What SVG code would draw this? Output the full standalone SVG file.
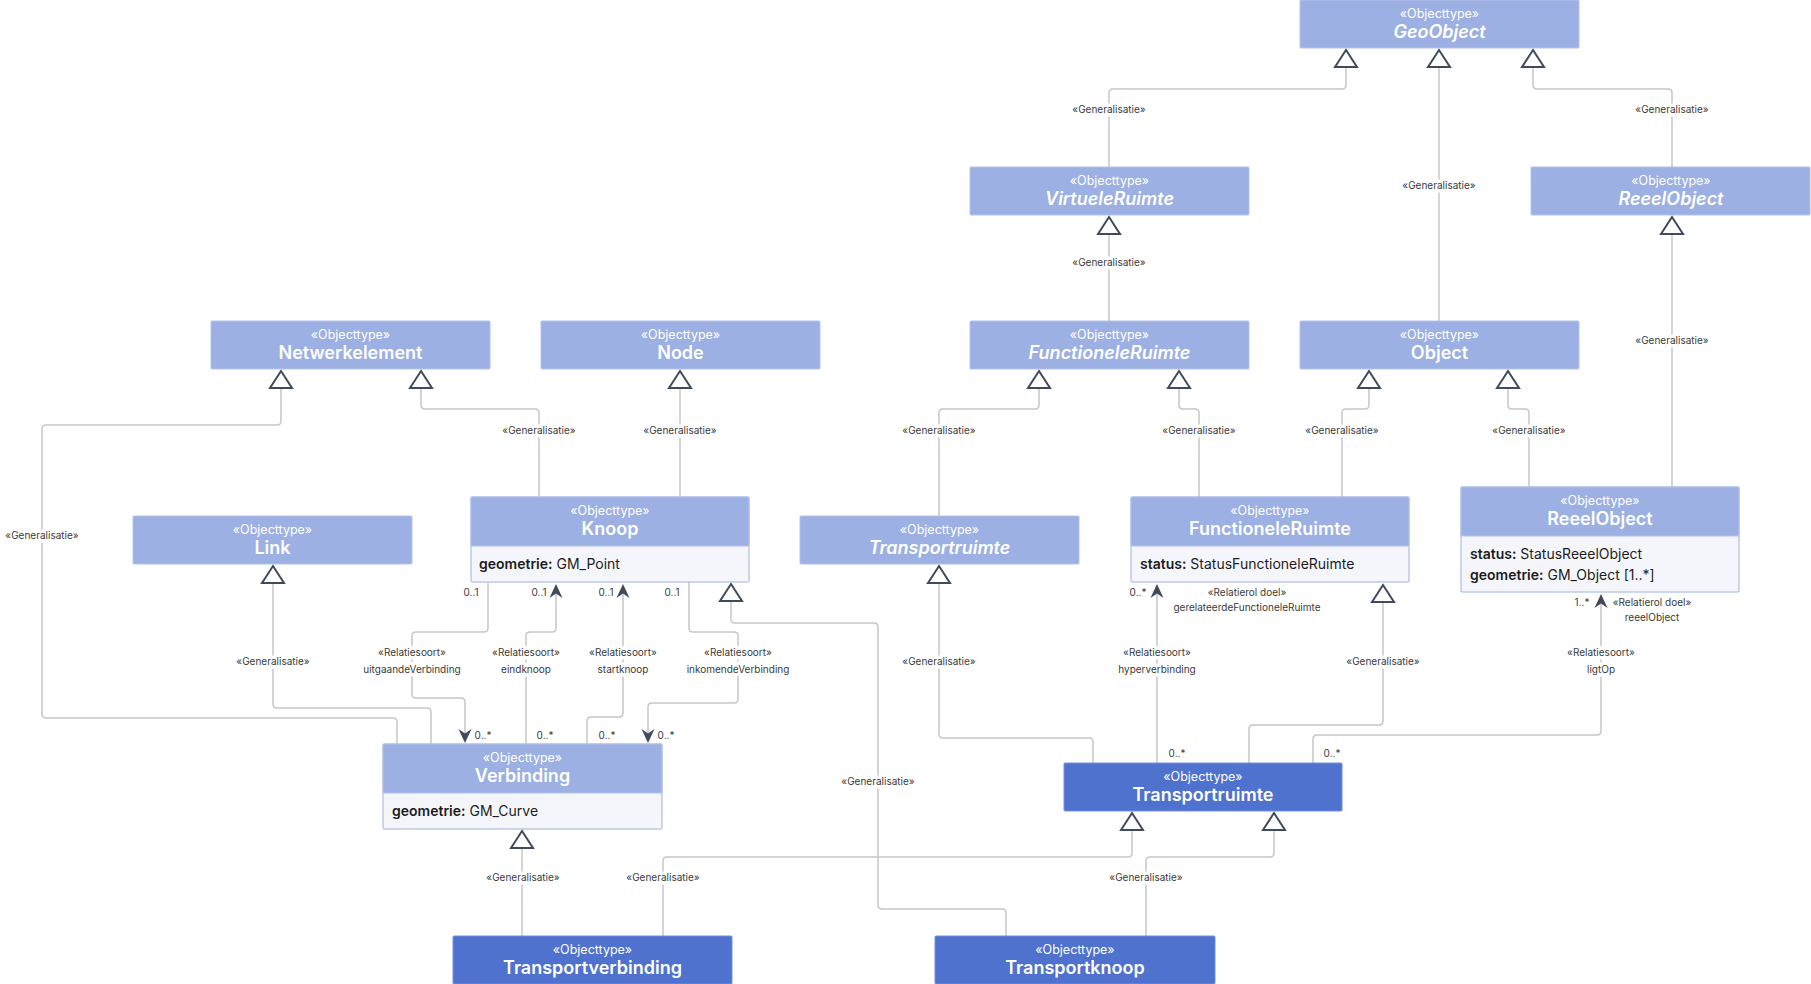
<svg xmlns="http://www.w3.org/2000/svg" width="1811" height="984" viewBox="0 0 1811 984">
<style>
.hd{fill:#9cb0e3;stroke:#b3c2ec;stroke-width:1}
.hdk{fill:#4e72ce;stroke:#7390dc;stroke-width:1}
.at{fill:#f5f6fb;stroke:#9cb0e3;stroke-width:1}
.st{font-family:Inter,"Liberation Sans",sans-serif;font-size:12.5px;fill:#ffffff;text-anchor:middle}
.nm{font-family:Inter,"Liberation Sans",sans-serif;font-size:18px;font-weight:600;fill:#ffffff;text-anchor:middle}
.it{font-style:italic}
.av{font-family:Inter,"Liberation Sans",sans-serif;font-size:14px;fill:#1c1c1c}
.av tspan.b{font-weight:600}
.cn path{fill:none;stroke:#c6c6cc;stroke-width:1.5}
.lb{font-family:Inter,"Liberation Sans",sans-serif;font-size:10px;fill:#3a3a3a;text-anchor:middle;stroke:#ffffff;stroke-width:7px;paint-order:stroke;stroke-linejoin:round}
.ml{font-family:Inter,"Liberation Sans",sans-serif;font-size:10px;fill:#3a3a3a;text-anchor:middle}
.tri{fill:#ffffff;stroke:#3f4a5a;stroke-width:2;stroke-linejoin:miter}
.arr{fill:#3f4a5a}
</style>
<defs>
<path id="tri" d="M0,0 L11,17 L-11,17 Z"/>
<path id="aup" d="M0,0 L6.5,14 L0,9.5 L-6.5,14 Z"/>
<path id="adn" d="M0,0 L6.5,-14 L0,-9.5 L-6.5,-14 Z"/>
</defs>
<rect width="1811" height="984" fill="#ffffff"/>

<g id="connectors" class="cn">
<path d="M1346,67 V85 Q1346,89 1342,89 H1113 Q1109,89 1109,93 V167"/>
<path d="M1439,67 V321"/>
<path d="M1533,67 V85 Q1533,89 1537,89 H1668 Q1672,89 1672,93 V167"/>
<path d="M1109,234 V321"/>
<path d="M1672,234 V487"/>
<path d="M281,388 V421 Q281,425 277,425 H46 Q42,425 42,429 V714 Q42,718 46,718 H393 Q397,718 397,722 V744"/>
<path d="M421,388 V405 Q421,409 425,409 H535 Q539,409 539,413 V497"/>
<path d="M680,388 V497"/>
<path d="M1039,388 V405 Q1039,409 1035,409 H943 Q939,409 939,413 V516"/>
<path d="M1179,388 V405 Q1179,409 1183,409 H1195 Q1199,409 1199,413 V497"/>
<path d="M1369,388 V405 Q1369,409 1365,409 H1346 Q1342,409 1342,413 V497"/>
<path d="M1508,388 V405 Q1508,409 1512,409 H1525 Q1529,409 1529,413 V487"/>
<path d="M273,583 V704 Q273,708 277,708 H427 Q431,708 431,712 V744"/>
<path d="M488,582 V628 Q488,632 484,632 H416 Q412,632 412,636 V694 Q412,698 416,698 H461 Q465,698 465,702 V735"/>
<path d="M556,592 V628 Q556,632 552,632 H530 Q526,632 526,636 V744"/>
<path d="M623,592 V713 Q623,717 619,717 H591 Q587,717 587,721 V744"/>
<path d="M689,582 V628 Q689,632 693,632 H734 Q738,632 738,636 V699 Q738,703 734,703 H652 Q648,703 648,707 V735"/>
<path d="M731,601 V619 Q731,623 735,623 H874 Q878,623 878,627 V905 Q878,909 882,909 H1002 Q1006,909 1006,913 V936"/>
<path d="M939,583 V734 Q939,738 943,738 H1089 Q1093,738 1093,742 V763"/>
<path d="M1383,602 V721 Q1383,725 1379,725 H1253 Q1249,725 1249,729 V763"/>
<path d="M1157,592 V763"/>
<path d="M1601,602 V731 Q1601,735 1597,735 H1317 Q1313,735 1313,739 V763"/>
<path d="M522,848 V936"/>
<path d="M1132,830 V853 Q1132,857 1128,857 H667 Q663,857 663,861 V936"/>
<path d="M1274,830 V853 Q1274,857 1270,857 H1150 Q1146,857 1146,861 V936"/>

<g id="markers">
<use href="#tri" class="tri" x="1346" y="50"/>
<use href="#tri" class="tri" x="1439" y="50"/>
<use href="#tri" class="tri" x="1533" y="50"/>
<use href="#tri" class="tri" x="1109" y="217"/>
<use href="#tri" class="tri" x="1672" y="217"/>
<use href="#tri" class="tri" x="281" y="371"/>
<use href="#tri" class="tri" x="421" y="371"/>
<use href="#tri" class="tri" x="680" y="371"/>
<use href="#tri" class="tri" x="1039" y="371"/>
<use href="#tri" class="tri" x="1179" y="371"/>
<use href="#tri" class="tri" x="1369" y="371"/>
<use href="#tri" class="tri" x="1508" y="371"/>
<use href="#tri" class="tri" x="273" y="566"/>
<use href="#tri" class="tri" x="731" y="584"/>
<use href="#tri" class="tri" x="939" y="566"/>
<use href="#tri" class="tri" x="1383" y="585"/>
<use href="#tri" class="tri" x="522" y="831"/>
<use href="#tri" class="tri" x="1132" y="813"/>
<use href="#tri" class="tri" x="1274" y="813"/>
<use href="#aup" class="arr" x="556" y="584"/>
<use href="#aup" class="arr" x="623" y="584"/>
<use href="#aup" class="arr" x="1157" y="584"/>
<use href="#aup" class="arr" x="1601" y="594"/>
<use href="#adn" class="arr" x="465" y="743"/>
<use href="#adn" class="arr" x="648" y="743"/>
</g>

<g id="labels">
<text class="lb" x="1109" y="113">«Generalisatie»</text>
<text class="lb" x="1439" y="189">«Generalisatie»</text>
<text class="lb" x="1672" y="113">«Generalisatie»</text>
<text class="lb" x="1109" y="266">«Generalisatie»</text>
<text class="lb" x="1672" y="344">«Generalisatie»</text>
<text class="lb" x="42" y="539">«Generalisatie»</text>
<text class="lb" x="539" y="434">«Generalisatie»</text>
<text class="lb" x="680" y="434">«Generalisatie»</text>
<text class="lb" x="939" y="434">«Generalisatie»</text>
<text class="lb" x="1199" y="434">«Generalisatie»</text>
<text class="lb" x="1342" y="434">«Generalisatie»</text>
<text class="lb" x="1529" y="434">«Generalisatie»</text>
<text class="lb" x="273" y="665">«Generalisatie»</text>
<text class="lb" x="878" y="785">«Generalisatie»</text>
<text class="lb" x="939" y="665">«Generalisatie»</text>
<text class="lb" x="1383" y="665">«Generalisatie»</text>
<text class="lb" x="523" y="881">«Generalisatie»</text>
<text class="lb" x="663" y="881">«Generalisatie»</text>
<text class="lb" x="1146" y="881">«Generalisatie»</text>
<text class="lb" x="412" y="656">«Relatiesoort»</text>
<text class="lb" x="412" y="673">uitgaandeVerbinding</text>
<text class="lb" x="526" y="656">«Relatiesoort»</text>
<text class="lb" x="526" y="673">eindknoop</text>
<text class="lb" x="623" y="656">«Relatiesoort»</text>
<text class="lb" x="623" y="673">startknoop</text>
<text class="lb" x="738" y="656">«Relatiesoort»</text>
<text class="lb" x="738" y="673">inkomendeVerbinding</text>
<text class="lb" x="1157" y="656">«Relatiesoort»</text>
<text class="lb" x="1157" y="673">hyperverbinding</text>
<text class="lb" x="1601" y="656">«Relatiesoort»</text>
<text class="lb" x="1601" y="673">ligtOp</text>
<text class="ml" x="1247" y="596">«Relatierol doel»</text>
<text class="ml" x="1247" y="611">gerelateerdeFunctioneleRuimte</text>
<text class="ml" x="1652" y="606">«Relatierol doel»</text>
<text class="ml" x="1652" y="621">reeelObject</text>
<text class="ml" x="471" y="596">0..1</text>
<text class="ml" x="539" y="596">0..1</text>
<text class="ml" x="606" y="596">0..1</text>
<text class="ml" x="672" y="596">0..1</text>
<text class="ml" x="483" y="739">0..*</text>
<text class="ml" x="545" y="739">0..*</text>
<text class="ml" x="607" y="739">0..*</text>
<text class="ml" x="666" y="739">0..*</text>
<text class="ml" x="1138" y="596">0..*</text>
<text class="ml" x="1582" y="606">1..*</text>
<text class="ml" x="1177" y="757">0..*</text>
<text class="ml" x="1332" y="757">0..*</text>
</g>
</g>

<g id="GeoObject">
<rect class="hd" x="1300" y="0" width="279" height="48" rx="1"/>
<text class="st" x="1439.5" y="18">«Objecttype»</text>
<text class="nm it" x="1439.5" y="38">GeoObject</text>
</g>
<g id="VirtueleRuimte">
<rect class="hd" x="970" y="167" width="279" height="48" rx="1"/>
<text class="st" x="1109.5" y="185">«Objecttype»</text>
<text class="nm it" x="1109.5" y="205">VirtueleRuimte</text>
</g>
<g id="ReeelObjectAbstract">
<rect class="hd" x="1531" y="167" width="279" height="48" rx="1"/>
<text class="st" x="1671" y="185">«Objecttype»</text>
<text class="nm it" x="1671" y="205">ReeelObject</text>
</g>
<g id="Netwerkelement">
<rect class="hd" x="211" y="321" width="279" height="48" rx="1"/>
<text class="st" x="350.5" y="339">«Objecttype»</text>
<text class="nm" x="350.5" y="359">Netwerkelement</text>
</g>
<g id="Node">
<rect class="hd" x="541" y="321" width="279" height="48" rx="1"/>
<text class="st" x="680.5" y="339">«Objecttype»</text>
<text class="nm" x="680.5" y="359">Node</text>
</g>
<g id="FunctioneleRuimteAbstract">
<rect class="hd" x="970" y="321" width="279" height="48" rx="1"/>
<text class="st" x="1109.5" y="339">«Objecttype»</text>
<text class="nm it" x="1109.5" y="359">FunctioneleRuimte</text>
</g>
<g id="Object">
<rect class="hd" x="1300" y="321" width="279" height="48" rx="1"/>
<text class="st" x="1439.5" y="339">«Objecttype»</text>
<text class="nm" x="1439.5" y="359">Object</text>
</g>
<g id="Link">
<rect class="hd" x="133" y="516" width="279" height="48" rx="1"/>
<text class="st" x="272.5" y="534">«Objecttype»</text>
<text class="nm" x="272.5" y="554">Link</text>
</g>
<g id="Knoop">
<rect class="at" x="471" y="497" width="278" height="85" rx="1"/>
<rect class="hd" x="471" y="497" width="278" height="49" rx="1"/>
<text class="st" x="610" y="515">«Objecttype»</text>
<text class="nm" x="610" y="535">Knoop</text>
<text class="av" x="479" y="569"><tspan class="b">geometrie:</tspan> GM_Point</text>
</g>
<g id="TransportruimteAbstract">
<rect class="hd" x="800" y="516" width="279" height="48" rx="1"/>
<text class="st" x="939.5" y="534">«Objecttype»</text>
<text class="nm it" x="939.5" y="554">Transportruimte</text>
</g>
<g id="FunctioneleRuimte">
<rect class="at" x="1131" y="497" width="278" height="85" rx="1"/>
<rect class="hd" x="1131" y="497" width="278" height="49" rx="1"/>
<text class="st" x="1270" y="515">«Objecttype»</text>
<text class="nm" x="1270" y="535">FunctioneleRuimte</text>
<text class="av" x="1140" y="569"><tspan class="b">status:</tspan> StatusFunctioneleRuimte</text>
</g>
<g id="ReeelObject">
<rect class="at" x="1461" y="487" width="278" height="105" rx="1"/>
<rect class="hd" x="1461" y="487" width="278" height="49" rx="1"/>
<text class="st" x="1600" y="505">«Objecttype»</text>
<text class="nm" x="1600" y="525">ReeelObject</text>
<text class="av" x="1470" y="559"><tspan class="b">status:</tspan> StatusReeelObject</text>
<text class="av" x="1470" y="580"><tspan class="b">geometrie:</tspan> GM_Object [1..*]</text>
</g>
<g id="Verbinding">
<rect class="at" x="383" y="744" width="279" height="85" rx="1"/>
<rect class="hd" x="383" y="744" width="279" height="49" rx="1"/>
<text class="st" x="522.5" y="762">«Objecttype»</text>
<text class="nm" x="522.5" y="782">Verbinding</text>
<text class="av" x="392" y="816"><tspan class="b">geometrie:</tspan> GM_Curve</text>
</g>
<g id="Transportruimte">
<rect class="hdk" x="1064" y="763" width="278" height="48" rx="1"/>
<text class="st" x="1203" y="781">«Objecttype»</text>
<text class="nm" x="1203" y="801">Transportruimte</text>
</g>
<g id="Transportverbinding">
<rect class="hdk" x="453" y="936" width="279" height="48" rx="1"/>
<text class="st" x="592.5" y="954">«Objecttype»</text>
<text class="nm" x="592.5" y="974">Transportverbinding</text>
</g>
<g id="Transportknoop">
<rect class="hdk" x="935" y="936" width="280" height="48" rx="1"/>
<text class="st" x="1075" y="954">«Objecttype»</text>
<text class="nm" x="1075" y="974">Transportknoop</text>
</g>
</svg>
